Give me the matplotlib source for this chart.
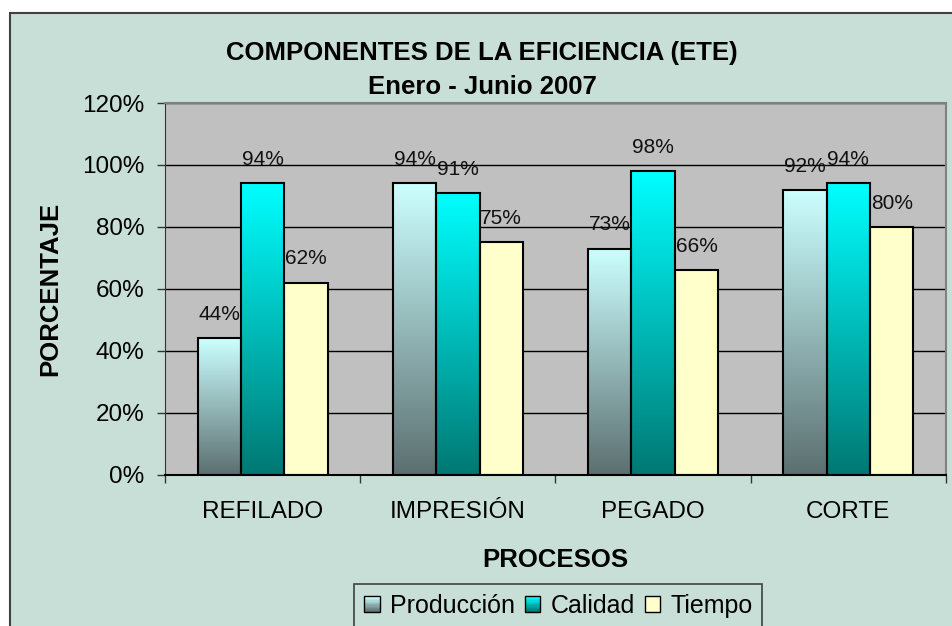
import numpy as np
import matplotlib
matplotlib.use('Agg')
import matplotlib.pyplot as plt
from matplotlib.patches import Rectangle
from matplotlib.colors import to_rgb
from matplotlib.legend_handler import HandlerBase
from matplotlib.ticker import FuncFormatter

plt.rcParams['font.family'] = ['Liberation Sans', 'DejaVu Sans']

procesos = ['REFILADO', 'IMPRESIÓN', 'PEGADO', 'CORTE']
produccion = [44, 94, 73, 92]
calidad = [94, 91, 98, 94]
tiempo = [62, 75, 66, 80]
series_names = ['Producción', 'Calidad', 'Tiempo']

# fill of each series: (top colour, bottom colour); Tiempo is flat
fills = [('#CCFFFF', '#5C6F70'), ('#00FFFF', '#007873'), ('#FFFFCC', '#FFFFCC')]

bg = '#C8DFD8'
W, H = 953, 626

fig = plt.figure(figsize=(W / 100, H / 100), dpi=100)
fig.patch.set_facecolor('white')

# chart area (runs off the right and bottom edge like the original)
chart = Rectangle((10 / W, -0.02), 1.05, 1 - 13 / H + 0.02, transform=fig.transFigure,
                  facecolor=bg, edgecolor='#404040', linewidth=1.5, zorder=-10)
fig.patches.append(chart)

ax = fig.add_axes([165 / W, 1 - 474.5 / H, (946 - 165) / W, (474.5 - 103) / H])
ax.set_facecolor('#C0C0C0')


def gradient(top, bottom, n=256):
    t = np.linspace(0, 1, n)[:, None]
    c0 = np.array(to_rgb(bottom))
    c1 = np.array(to_rgb(top))
    return (c0 + (c1 - c0) * t)[:, None, :]


x = np.arange(len(procesos))
w = 1 / 4.5
data = [produccion, calidad, tiempo]

for i, vals in enumerate(data):
    xs = x + (i - 1) * w
    top, bottom = fills[i]
    for xi, v in zip(xs, vals):
        ax.imshow(gradient(top, bottom), extent=(xi - w / 2, xi + w / 2, 0, v),
                  origin='lower', aspect='auto', interpolation='bilinear', zorder=2)
    ax.bar(xs, vals, w, fill=False, edgecolor='black', linewidth=1.5, zorder=3)
    for xi, v in zip(xs, vals):
        ax.annotate(f'{v}%', (xi, v), xytext=(0, 17), textcoords='offset points',
                    ha='center', va='center', fontsize=15, color='#111111', zorder=4)

ax.set_xlim(-0.5, len(procesos) - 0.5)
ax.set_ylim(0, 120)
ax.set_yticks(range(0, 121, 20))
ax.yaxis.set_major_formatter(FuncFormatter(lambda v, p: f'{int(v)}%'))
ax.yaxis.grid(True, color='black', linewidth=1)
ax.set_axisbelow(True)

ax.set_xticks(x)
ax.set_xticklabels(procesos)
ax.set_xticks(np.arange(len(procesos) + 1) - 0.5, minor=True)
ax.tick_params(axis='x', which='major', length=0, pad=19, labelsize=17.5)
ax.tick_params(axis='x', which='minor', length=6, width=1, direction='out', color='#333333')
ax.tick_params(axis='y', length=6, width=1, direction='out', pad=9, labelsize=17.5,
               color='#333333')

for side in ['top', 'right']:
    ax.spines[side].set_color('#808080')
    ax.spines[side].set_linewidth(1.5)
ax.spines['left'].set_color('#333333')
ax.spines['bottom'].set_color('black')
ax.spines['bottom'].set_linewidth(1.5)

fig.text(482 / W, 1 - 53 / H, 'COMPONENTES DE LA EFICIENCIA (ETE)', ha='center', va='center',
         fontsize=18.5, fontweight='bold')
fig.text(482 / W, 1 - 87 / H, 'Enero - Junio 2007', ha='center', va='center',
         fontsize=18.5, fontweight='bold')
fig.text(50 / W, 1 - 288.5 / H, 'PORCENTAJE', rotation=90, ha='center', va='center',
         fontsize=18.5, fontweight='bold')
fig.text(555.5 / W, 1 - 560 / H, 'PROCESOS', ha='center', va='center',
         fontsize=18.5, fontweight='bold')


class GradientHandler(HandlerBase):
    def __init__(self, top, bottom):
        super().__init__()
        self.top, self.bottom = top, bottom

    def create_artists(self, legend, orig_handle, xdescent, ydescent, width, height,
                       fontsize, trans):
        size = min(width, height)
        x0 = -xdescent + (width - size) / 2
        y0 = -ydescent + (height - size) / 2
        g = gradient(self.top, self.bottom, 12)[:, 0, :]
        arts = []
        n = len(g)
        for k in range(n):
            arts.append(Rectangle((x0, y0 + k * size / n), size, size / n + 0.3,
                                  facecolor=g[k], edgecolor='none', transform=trans))
        arts.append(Rectangle((x0, y0), size, size, facecolor='none',
                              edgecolor='black', linewidth=1, transform=trans))
        return arts


handles = [Rectangle((0, 0), 1, 1) for _ in series_names]
handler_map = {h: GradientHandler(*fills[i]) for i, h in enumerate(handles)}
leg = fig.legend(handles, series_names, handler_map=handler_map, loc='upper center',
                 bbox_to_anchor=(558.5 / W, 1 - 584 / H), ncol=3, fontsize=18,
                 frameon=True, fancybox=False, edgecolor='#404040', facecolor=bg,
                 framealpha=1, handlelength=0.62, handleheight=0.62, handletextpad=0.4,
                 columnspacing=0.4, borderpad=0.4, borderaxespad=0)
leg.get_frame().set_linewidth(1.2)

plt.savefig('out.png', dpi=100)
